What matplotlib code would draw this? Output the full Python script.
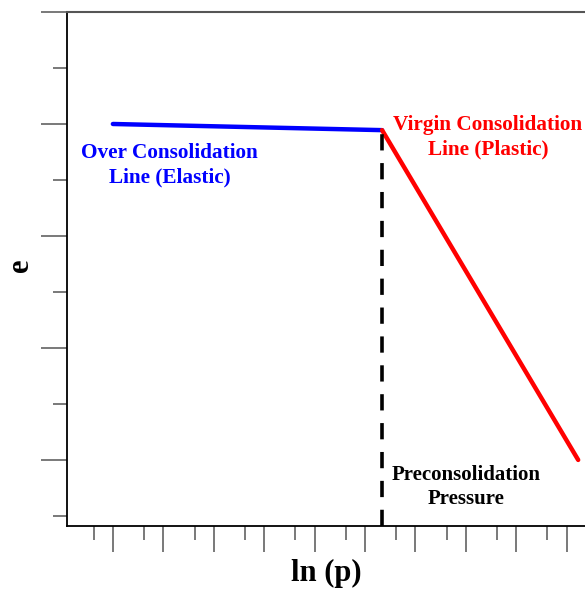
import matplotlib
matplotlib.use("Agg")
import matplotlib.pyplot as plt
from matplotlib.ticker import FixedLocator, NullFormatter

plt.rcParams['font.family'] = ['Liberation Serif', 'DejaVu Serif']

# e - ln(p) consolidation sketch (arbitrary units)
elastic_lnp = [1.0, 6.34]
elastic_e = [8.0, 7.89]
plastic_lnp = [6.34, 10.23]
plastic_e = [7.89, 2.0]
precon_lnp = 6.34

x_major = [1, 2, 3, 4, 5, 6, 7, 8, 9, 10]
x_minor = [0.62, 1.62, 2.62, 3.62, 4.62, 5.62, 6.62, 7.62, 8.62, 9.62]
y_major = [2, 4, 6, 8, 10]
y_minor = [1, 3, 5, 7, 9]

fig = plt.figure(figsize=(5.85, 5.89), dpi=100)
W, H = 585, 589
x_left, x_right = 0.09, 10.6
px_per_x = 50.4
ax_right_px = 113 + (x_right - 1) * px_per_x
ax = fig.add_axes([67 / W, (H - 526) / H, (ax_right_px - 67) / W, (526 - 12) / H])
ax.set_xlim(x_left, x_right)
ax.set_ylim(0.82, 10)

# lines
ax.plot(elastic_lnp, elastic_e, color='#0000ff', lw=3.2, solid_capstyle='round')
ax.plot(plastic_lnp, plastic_e, color='#ff0000', lw=3.2, solid_capstyle='round')
ax.plot([precon_lnp, precon_lnp], [0.82, elastic_e[1]], color='black', lw=2.6,
        dashes=(4.5, 3.5))

# labels on the plot
ax.text(2.13, 7.27, 'Over Consolidation\nLine (Elastic)', color='#0000ff',
        fontsize=15.3, fontweight='bold', ha='center', va='center', linespacing=1.3)
ax.text(8.44, 7.77, 'Virgin Consolidation\nLine (Plastic)', color='#ff0000',
        fontsize=15.3, fontweight='bold', ha='center', va='center', linespacing=1.3)
ax.text(8.0, 1.52, 'Preconsolidation\nPressure', color='black',
        fontsize=15, fontweight='bold', ha='center', va='center', linespacing=1.3)

# spines
ax.spines['right'].set_visible(False)
ax.spines['left'].set_color('black')
ax.spines['bottom'].set_color('black')
ax.spines['left'].set_linewidth(1.3)
ax.spines['bottom'].set_linewidth(1.3)
ax.spines['top'].set_color('#555555')
ax.spines['top'].set_linewidth(1.5)

# ticks
ax.xaxis.set_major_locator(FixedLocator(x_major))
ax.xaxis.set_minor_locator(FixedLocator(x_minor))
ax.yaxis.set_major_locator(FixedLocator(y_major))
ax.yaxis.set_minor_locator(FixedLocator(y_minor))
ax.xaxis.set_major_formatter(NullFormatter())
ax.yaxis.set_major_formatter(NullFormatter())
ax.tick_params(which='major', direction='out', length=18.7, width=1.1, color='#555555')
ax.tick_params(which='minor', direction='out', length=9.8, width=1.1, color='#555555')
ax.tick_params(top=False, right=False, which='both')

ax.set_xlabel('ln (p)', fontsize=22, fontweight='bold')
ax.xaxis.set_label_coords((326 - 67) / (ax_right_px - 67), -0.065)
fig.text(20 / W, 1 - 265 / H, 'e', fontsize=22, fontweight='bold',
         rotation=90, ha='center', va='center')

fig.savefig('out.png', dpi=100)
